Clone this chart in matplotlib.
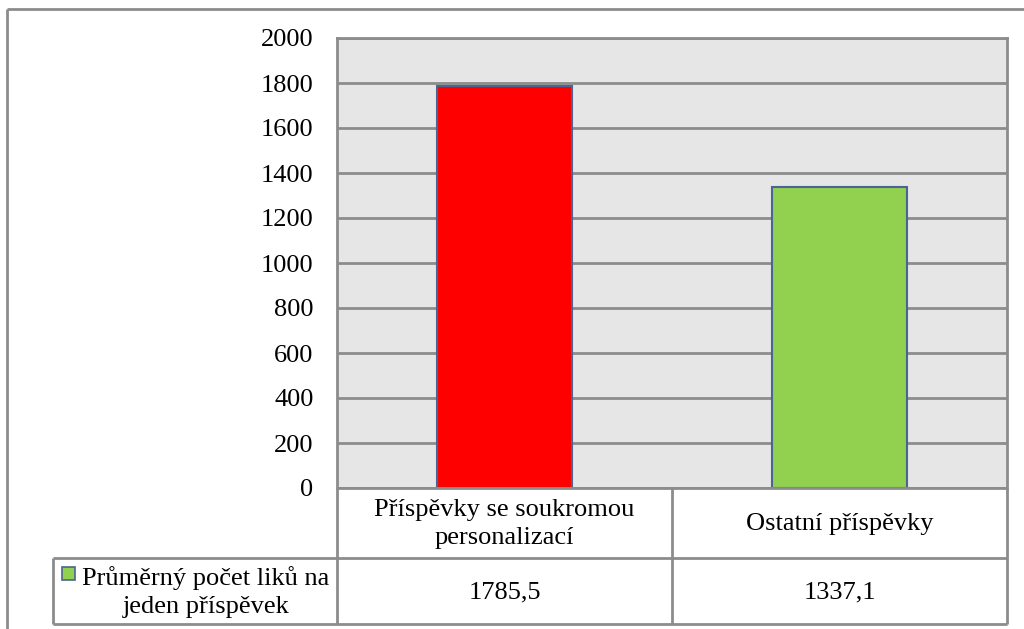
import matplotlib
matplotlib.use("Agg")
import matplotlib.pyplot as plt
from matplotlib.patches import Rectangle

categories = ["Příspěvky se soukromou\npersonalizací", "Ostatní příspěvky"]
values = [1785.5, 1337.1]
value_labels = ["1785,5", "1337,1"]
series_name = "Průměrný počet liků na\njeden příspěvek"
yticks = [0, 200, 400, 600, 800, 1000, 1200, 1400, 1600, 1800, 2000]
bar_colors = ["#ff0000", "#92d050"]

W, H = 1024, 629
FS = 19
plt.rcParams['font.family'] = ['Liberation Serif', 'DejaVu Serif']
fig = plt.figure(figsize=(W / 100, H / 100), dpi=100)

def fx(x):
    return x / W

def fy(y):
    return 1 - y / H

# plot area in pixels
L, R, T, B = 337, 1007, 38, 488
ax = fig.add_axes([fx(L), fy(B), fx(R) - fx(L), fy(T) - fy(B)])
ax.set_facecolor("#e6e6e6")
ax.set_xlim(-0.5, len(categories) - 0.5)
ax.set_ylim(0, 2000)
grid_c = "#8c8c8c"
ax.set_yticks(yticks)
ax.set_yticklabels([str(t) for t in yticks], fontsize=FS)
ax.tick_params(axis='y', length=0, pad=17)
ax.set_xticks([])
ax.yaxis.grid(True, color=grid_c, linewidth=2)
ax.set_axisbelow(True)
for s in ax.spines.values():
    s.set_color(grid_c)
    s.set_linewidth(2)
ax.spines['bottom'].set_visible(False)
ax.bar(range(len(values)), values, width=0.403, color=bar_colors,
       edgecolor="#4a6591", linewidth=1.5, zorder=3)

# overlay for table and frame
ov = fig.add_axes([0, 0, 1, 1], facecolor='none')
ov.set_xlim(0, W)
ov.set_ylim(H, 0)
ov.axis('off')

def line(x0, y0, x1, y1, lw=2):
    ov.plot([x0, x1], [y0, y1], color=grid_c, linewidth=lw, solid_capstyle='butt')

# outer frame
line(7, 9, W + 5, 9)
line(7, 9, 7, H + 5)

row1, row2, row3 = 488, 558, 624
colL, colM = 53, 672
line(L, row1, R, row1)
line(colL, row2, R, row2)
line(colL, row3, R, row3)
line(L, row1, L, row3)
line(R, row1, R, row3)
line(colM, row1, colM, row3)
line(colL, row2, colL, row3)

centers = [(L + colM) / 2, (colM + R) / 2]
for cx, cat, vl in zip(centers, categories, value_labels):
    ov.text(cx, (row1 + row2) / 2 + 1, cat, ha='center', va='center',
            fontsize=FS, linespacing=1.35)
    ov.text(cx, (row2 + row3) / 2 + 1, vl, ha='center', va='center', fontsize=FS)

# legend key
ov.add_patch(Rectangle((62, 567), 13, 13, facecolor=bar_colors[1],
                       edgecolor="#4a6591", linewidth=1.2))
ov.text(206, (row2 + row3) / 2 + 1, series_name, ha='center', va='center',
        fontsize=FS, linespacing=1.3)

fig.savefig("out.png", dpi=100)
